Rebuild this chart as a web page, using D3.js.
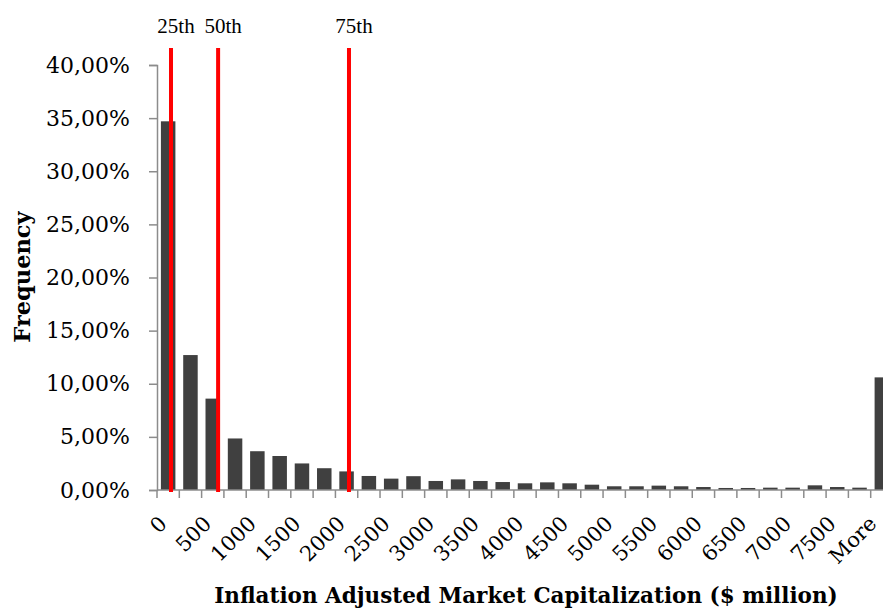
<!doctype html>
<html lang="en">
<head>
    <meta charset="UTF-8">
    <title>Market Capitalization Histogram</title>
    <style>
        body { margin: 0; background: #fff; }
        svg { display: block; }
    </style>
</head>
<body>
<script src="https://cdn.jsdelivr.net/npm/d3@7"></script>
<script>

    // bins of 250 ($ million), last one is "More"
    const bins = ['0', '250', '500', '750', '1000', '1250', '1500', '1750', '2000', '2250',
        '2500', '2750', '3000', '3250', '3500', '3750', '4000', '4250', '4500', '4750',
        '5000', '5250', '5500', '5750', '6000', '6250', '6500', '6750', '7000', '7250',
        '7500', '7750', 'More']

    // frequency in percent
    const freq = [34.7, 12.7, 8.6, 4.85, 3.65, 3.2, 2.5, 2.05, 1.75, 1.32,
        1.07, 1.3, 0.85, 1.0, 0.85, 0.75, 0.63, 0.72, 0.63, 0.5,
        0.35, 0.35, 0.41, 0.35, 0.28, 0.19, 0.19, 0.22, 0.22, 0.44,
        0.28, 0.22, 10.6]

    const yTicks = [0, 5, 10, 15, 20, 25, 30, 35, 40]

    // percentiles in $ million
    const pctLabels = ['25th', '50th', '75th']
    const pctValues = [157, 685, 2152]

    const W = 883, H = 609
    const mLeft = 157, mRight = 893, mTop = 65, mBottom = 490

    const svg = d3.select('body').append('svg')
        .attr('width', W)
        .attr('height', H)

    const x = d3.scaleBand()
        .domain(bins)
        .range([mLeft, mRight])
        .paddingInner(0.35)
        .paddingOuter(0.175)

    const xv = d3.scaleLinear()
        .domain([0, bins.length * 250])
        .range([mLeft, mRight])

    const y = d3.scaleLinear()
        .domain([0, 40])
        .range([mBottom, mTop])

    const fmt = d => d3.format('.2f')(d).replace('.', ',') + '%'

    // y axis
    const yAxis = svg.append('g')
        .attr('transform', `translate(${mLeft},0)`)
        .call(d3.axisLeft(y).tickValues(yTicks).tickSize(8).tickFormat(fmt))
    yAxis.selectAll('path, line').attr('stroke', '#8c8c8c').attr('stroke-width', 1.5)
    yAxis.selectAll('text')
        .attr('x', -27)
        .attr('font-family', 'DejaVu Serif')
        .attr('font-size', 22)
        .attr('fill', '#000')

    // bars
    svg.selectAll('rect.bar')
        .data(freq)
        .join('rect')
        .attr('class', 'bar')
        .attr('x', (d, i) => x(bins[i]))
        .attr('y', d => y(d))
        .attr('width', x.bandwidth())
        .attr('height', d => y(0) - y(d))
        .attr('fill', '#404040')

    // x axis line and ticks at band boundaries
    const step = x.step()
    svg.append('line')
        .attr('x1', mLeft).attr('x2', mRight)
        .attr('y1', mBottom).attr('y2', mBottom)
        .attr('stroke', '#8c8c8c').attr('stroke-width', 1.5)
    svg.selectAll('line.xtick')
        .data(d3.range(bins.length + 1))
        .join('line')
        .attr('class', 'xtick')
        .attr('x1', i => mLeft + i * step).attr('x2', i => mLeft + i * step)
        .attr('y1', mBottom).attr('y2', mBottom + 8)
        .attr('stroke', '#8c8c8c').attr('stroke-width', 1.5)

    // x labels, every other bin plus "More" (pulled in a little so it stays on the page)
    const shown = bins.filter((b, i) => i % 2 === 0)
    svg.selectAll('text.xlab')
        .data(shown)
        .join('text')
        .attr('class', 'xlab')
        .attr('transform', d => {
            const dx = d === 'More' ? -4 : 0
            return `translate(${x(d) + x.bandwidth() / 2 + dx},${mBottom + 35}) rotate(-45)`
        })
        .attr('text-anchor', 'end')
        .attr('font-family', 'DejaVu Serif')
        .attr('font-size', 21)
        .text(d => d)

    // percentile lines
    svg.selectAll('line.pct')
        .data(pctValues)
        .join('line')
        .attr('class', 'pct')
        .attr('x1', d => xv(d)).attr('x2', d => xv(d))
        .attr('y1', 48).attr('y2', mBottom + 2)
        .attr('stroke', '#ff0000').attr('stroke-width', 4)

    svg.selectAll('text.pct')
        .data(pctValues)
        .join('text')
        .attr('class', 'pct')
        .attr('x', d => xv(d) + 5)
        .attr('y', 33)
        .attr('text-anchor', 'middle')
        .attr('font-family', 'Liberation Serif')
        .attr('font-size', 21)
        .text((d, i) => pctLabels[i])

    // axis titles
    svg.append('text')
        .attr('x', 526)
        .attr('y', 603)
        .attr('text-anchor', 'middle')
        .attr('font-family', 'DejaVu Serif')
        .attr('font-weight', 'bold')
        .attr('font-size', 21.5)
        .text('Inflation Adjusted Market Capitalization ($ million)')

    svg.append('text')
        .attr('transform', 'translate(30,277) rotate(-90)')
        .attr('text-anchor', 'middle')
        .attr('font-family', 'DejaVu Serif')
        .attr('font-weight', 'bold')
        .attr('font-size', 22.5)
        .text('Frequency')

</script>
</body>
</html>
